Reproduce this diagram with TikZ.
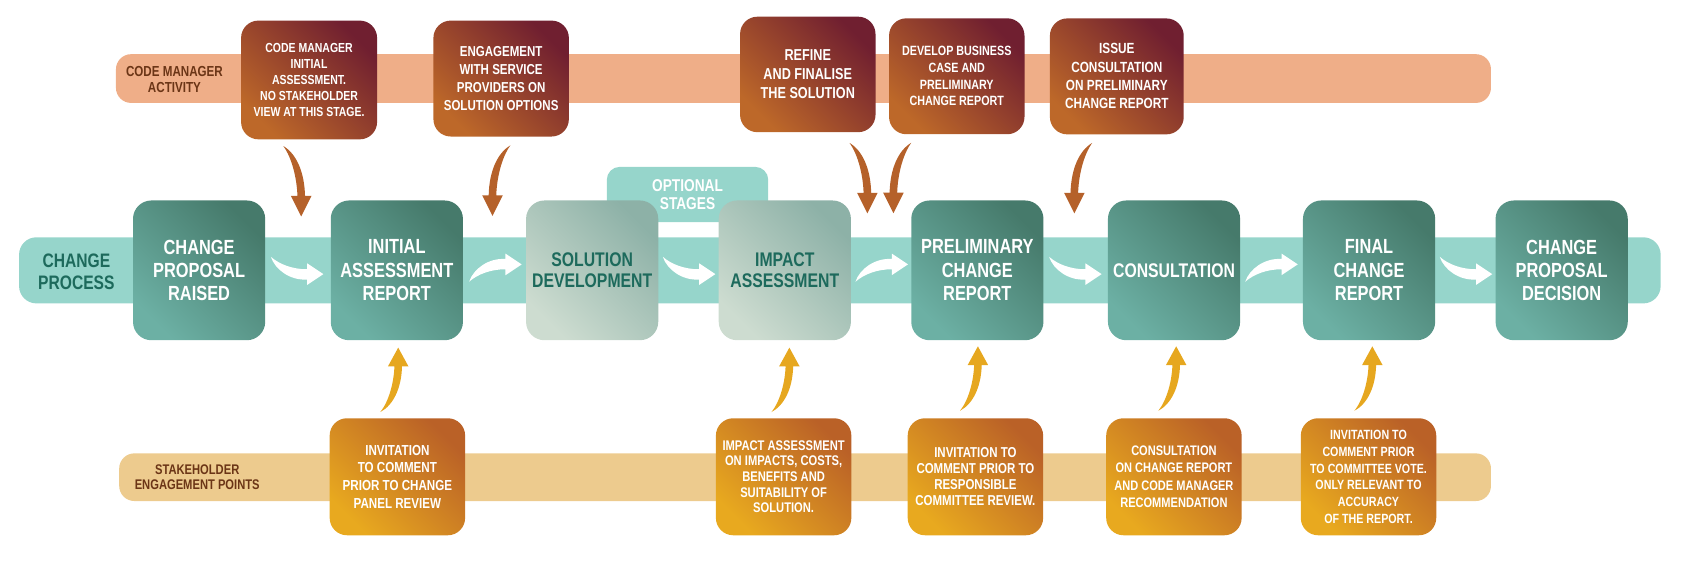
\documentclass[tikz,border=0pt]{standalone}
\usepackage{fontspec}
\setmainfont{Liberation Sans}[FakeStretch=0.8]
\usetikzlibrary{calc}

\definecolor{cmband}{HTML}{EFAE88}
\definecolor{procband}{HTML}{96D5CB}
\definecolor{skband}{HTML}{EDCB8E}
\definecolor{tealdark}{HTML}{467A6B}
\definecolor{teallight}{HTML}{6CB0A4}
\definecolor{sagedark}{HTML}{8DB1A7}
\definecolor{sagelight}{HTML}{CDDCD0}
\definecolor{maroon}{HTML}{701F30}
\definecolor{rust}{HTML}{BD6829}
\definecolor{amber}{HTML}{E8A91F}
\definecolor{copper}{HTML}{BA6127}
\definecolor{brownarrow}{HTML}{B5612A}
\definecolor{goldarrow}{HTML}{E6A71F}
\definecolor{browntext}{HTML}{6B3516}
\definecolor{tealtext}{HTML}{1D6A5C}

\begin{document}
\begin{tikzpicture}[x=1pt,y=-1pt,
  fs/.style 2 args={font=\fontsize{#1}{#2}\selectfont\bfseries},
  boxbase/.style={rounded corners=16, inner sep=0pt, align=center, text=white},
  stagebox/.style={boxbase, rounded corners=17, minimum width=122, minimum height=129,
    bottom color=teallight, top color=tealdark, shading angle=-45},
  optstagebox/.style={boxbase, rounded corners=17, minimum width=122, minimum height=129,
    bottom color=sagelight, top color=sagedark, shading angle=-45, text=tealtext},
  actbox/.style={boxbase, minimum width=125,
    bottom color=rust, top color=maroon, shading angle=-45},
  engbox/.style={boxbase, minimum width=125, minimum height=108,
    bottom color=amber, top color=copper, shading angle=-45},
  optbox/.style={boxbase, rounded corners=12, minimum width=149, minimum height=51,
    fill=procband},
  bandlabel/.style={align=center, inner sep=0pt},
  swooshdown/.pic={
    \fill[white] (0,0) .. controls (8,7) and (20,11.5) .. (33.5,11.5) -- (33.5,6)
      -- (48.5,16) -- (33.5,26) -- (33.5,21) .. controls (18,22) and (4,12) .. (0,0) -- cycle;},
  swooshup/.pic={
    \begin{scope}[yscale=-1]
    \fill[white] (0,0) .. controls (8,7) and (20,11.5) .. (33.5,11.5) -- (33.5,6)
      -- (48.5,16) -- (33.5,26) -- (33.5,21) .. controls (18,22) and (4,12) .. (0,0) -- cycle;
    \end{scope}},
  dropright/.pic={
    \fill[brownarrow] (0,0) .. controls (12,7) and (19.5,24) .. (20,46) -- (26,46)
      -- (16.5,65) -- (7,46) -- (13,46) .. controls (12.5,30) and (8,11) .. (0,0) -- cycle;},
  dropleft/.pic={
    \begin{scope}[xscale=-1]
    \fill[brownarrow] (0,0) .. controls (12,7) and (19.5,24) .. (20,46) -- (26,46)
      -- (16.5,65) -- (7,46) -- (13,46) .. controls (12.5,30) and (8,11) .. (0,0) -- cycle;
    \end{scope}},
  riseright/.pic={
    \begin{scope}[yscale=-0.915]
    \fill[goldarrow] (0,0) .. controls (12,7) and (19.5,24) .. (20,46) -- (26,46)
      -- (16.5,65) -- (7,46) -- (13,46) .. controls (12.5,30) and (8,11) .. (0,0) -- cycle;
    \end{scope}}
]
\useasboundingbox (0,0) rectangle (1568,540);

% horizontal bands
\fill[cmband, rounded corners=14] (107,50) rectangle (1376,95);
\fill[procband, rounded corners=16] (17.6,219) rectangle (1532.6,280);
\fill[skband, rounded corners=14] (110,418.4) rectangle (1376,462.4);

% band labels
\node[bandlabel, fs={13.4}{15}, text=browntext] (cmlabel) at (161,73.5) {CODE MANAGER\\ACTIVITY};
\node[bandlabel, fs={18}{20.4}, text=tealtext] (cplabel) at (70.5,250.8) {CHANGE\\PROCESS};
\node[bandlabel, fs={12.9}{14.5}, text=browntext] (sklabel) at (182,440.5) {STAKEHOLDER\\ENGAGEMENT POINTS};

% optional stages tab
\node[optbox, fs={15.8}{17}] (opt) at (634.5,179.5) {OPTIONAL\\STAGES};

% process stages
\node[stagebox, fs={18.9}{21.5}] (m1) at (183.75,249.5) {CHANGE\\PROPOSAL\\RAISED};
\node[stagebox, fs={18.9}{21.5}] (m2) at (366.25,249.5) {INITIAL\\ASSESSMENT\\REPORT};
\node[optstagebox, fs={18.2}{19.4}] (m3) at (546.5,249.5) {SOLUTION\\DEVELOPMENT};
\node[optstagebox, fs={18.2}{19.4}] (m4) at (724.3,249.5) {IMPACT\\ASSESSMENT};
\node[stagebox, fs={18.9}{21.5}] (m5) at (902,249.5) {PRELIMINARY\\CHANGE\\REPORT};
\node[stagebox, fs={18.2}{21.5}] (m6) at (1083.5,249.5) {CONSULTATION};
\node[stagebox, fs={18.9}{21.5}] (m7) at (1263.5,249.5) {FINAL\\CHANGE\\REPORT};
\node[stagebox, fs={18.9}{21.5}] (m8) at (1441.25,249.5) {CHANGE\\PROPOSAL\\DECISION};

% flow arrows along the process band
\pic at ($(m1.east)+(5,-12.5)$) {swooshdown};
\pic at ($(m2.east)+(5.5,10.5)$) {swooshup};
\pic at ($(m3.east)+(4,-12.5)$) {swooshdown};
\pic at ($(m4.east)+(4,10.5)$) {swooshup};
\pic at ($(m5.east)+(5,-12.5)$) {swooshdown};
\pic at ($(m6.east)+(4.5,10.5)$) {swooshup};
\pic at ($(m7.east)+(4,-12.5)$) {swooshdown};

% code manager activities
\node[actbox, fs={12.1}{14.8}, minimum width=125.5, minimum height=109.6] (t1) at (285.25,73.8)
  {CODE MANAGER\\INITIAL\\ASSESSMENT.\\NO STAKEHOLDER\\VIEW AT THIS STAGE.};
\node[actbox, fs={13.3}{16.5}, minimum height=107] (t2) at (462.5,72.5)
  {ENGAGEMENT\\WITH SERVICE\\PROVIDERS ON\\SOLUTION OPTIONS};
\node[actbox, fs={14.6}{17.4}, minimum height=106.6] (t3) at (745.5,68.7)
  {REFINE\\AND FINALISE\\THE SOLUTION};
\node[actbox, fs={12.4}{15.4}, minimum height=107] (t4) at (883,70.4)
  {DEVELOP BUSINESS\\CASE AND\\PRELIMINARY\\CHANGE REPORT};
\node[actbox, fs={13.6}{16.9}, minimum width=123.5, minimum height=107] (t5) at (1030.7,70.5)
  {ISSUE\\CONSULTATION\\ON PRELIMINARY\\CHANGE REPORT};

% stakeholder engagement points
\node[engbox, fs={13.4}{16.4}] (b1) at (366.75,440)
  {INVITATION\\TO COMMENT\\PRIOR TO CHANGE\\PANEL REVIEW};
\node[engbox, fs={12.9}{14.45}] (b2) at (723.2,440)
  {IMPACT ASSESSMENT\\ON IMPACTS, COSTS,\\BENEFITS AND\\SUITABILITY OF\\SOLUTION.};
\node[engbox, fs={13.25}{14.9}] (b3) at (900.2,440)
  {INVITATION TO\\COMMENT PRIOR TO\\RESPONSIBLE\\COMMITTEE REVIEW.};
\node[engbox, fs={12.75}{16.1}] (b4) at (1083.4,440)
  {CONSULTATION\\ON CHANGE REPORT\\AND CODE MANAGER\\RECOMMENDATION};
\node[engbox, fs={12.33}{15.4}] (b5) at (1263,440)
  {INVITATION TO\\COMMENT PRIOR\\TO COMMITTEE VOTE.\\ONLY RELEVANT TO\\ACCURACY\\OF THE REPORT.};

% activities feeding the process
\pic at ($(t1.south)+(-23.75,6)$) {dropright};
\pic at ($(t2.south)+(8.5,8)$) {dropleft};
\pic at ($(t3.south)+(38.5,9.7)$) {dropright};
\pic at ($(t4.south)+(-42,7.7)$) {dropleft};
\pic at ($(t5.south)+(-22.7,7.7)$) {dropleft};

% stakeholder input into the process
\pic at ($(b1.north)+(-15.75,-5.5)$) {riseright};
\pic at ($(b2.north)+(-11.2,-5.5)$) {riseright};
\pic at ($(b3.north)+(-14.2,-6.7)$) {riseright};
\pic at ($(b4.north)+(-14.4,-6.7)$) {riseright};
\pic at ($(b5.north)+(-13,-6.7)$) {riseright};
\end{tikzpicture}
\end{document}
